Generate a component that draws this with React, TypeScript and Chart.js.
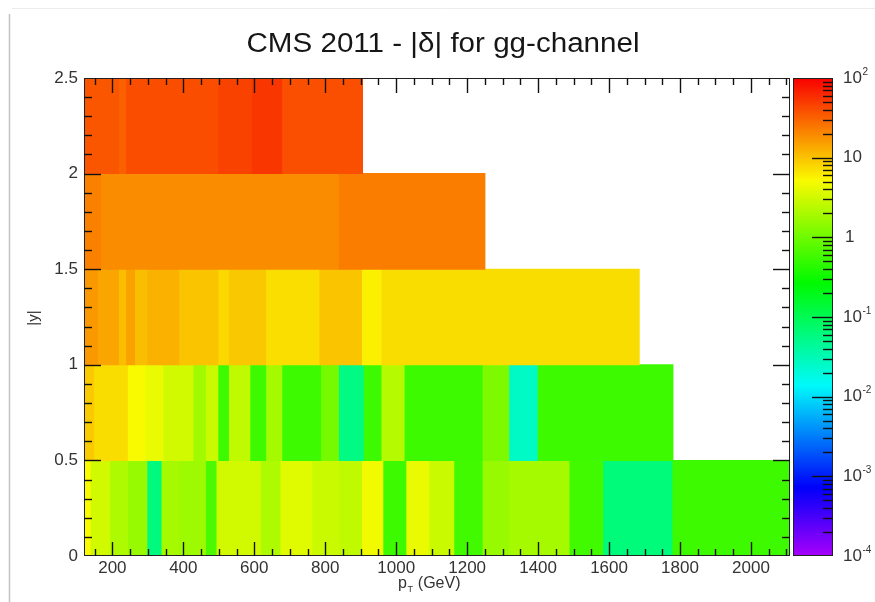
import { useEffect, useRef } from 'react';
import { Chart, registerables } from 'chart.js';

Chart.register(...registerables);

// ---------- text ----------
const TITLE = 'CMS 2011 - |δ| for gg-channel';
const X_TITLE = 'p';
const X_TITLE_SUB = 'T';
const X_TITLE_UNIT = ' (GeV)';
const Y_TITLE = '|y|';

// ---------- axis ranges / ticks ----------
const X_MIN = 120;
const X_MAX = 2110;
const Y_MIN = 0;
const Y_MAX = 2.5;
const Z_MIN = 1e-4;
const Z_MAX = 1e2;
const xTickValues = [200, 400, 600, 800, 1000, 1200, 1400, 1600, 1800, 2000];
const yTickValues = [0, 0.5, 1, 1.5, 2, 2.5];
const zTickExponents = [-4, -3, -2, -1, 0, 1, 2];

// ---------- data: |y| bins (lower edges) ----------
const yBinLow = [0, 0.5, 1, 1.5, 2];
const Y_BIN_WIDTH = 0.5;

// pT bin edges and |δ| values per |y| row (bottom to top)
const row0Edges = [120, 140, 195, 245, 300, 340, 390, 465, 495, 620, 675, 765, 840, 905, 965, 1030, 1095, 1165, 1245, 1320, 1490, 1585, 1780, 2110];
const row0Values = [5.2, 3.2, 2.1, 1.6, 0.06, 1.9, 1.75, 0.65, 3.2, 2.1, 3.8, 2.9, 2.6, 4.7, 0.56, 4.3, 2.9, 0.58, 1.6, 1.9, 0.58, 0.063, 0.56];

const row1Edges = [120, 150, 245, 295, 345, 430, 465, 500, 530, 590, 635, 680, 790, 840, 910, 960, 1025, 1245, 1320, 1400, 1780];
const row1Values = [9.2, 7.3, 5.1, 4.3, 3.2, 1.8, 2.9, 0.56, 2.6, 0.56, 1.9, 0.56, 1.07, 0.057, 0.56, 2.3, 0.56, 1.2, 0.026, 0.56];

const row2Edges = [120, 160, 220, 240, 265, 300, 390, 500, 530, 635, 785, 905, 960, 1685];
const row2Values = [16.6, 14.2, 10.6, 14.6, 10.5, 12.3, 9.8, 7.7, 9.4, 7.2, 9.8, 5.8, 7.3];

const row3Edges = [120, 170, 840, 1250];
const row3Values = [21.7, 19, 22.8];

const row4Edges = [120, 220, 240, 500, 595, 680, 905];
const row4Values = [36, 32, 40, 46, 53, 39];

const rowEdges = [row0Edges, row1Edges, row2Edges, row3Edges, row4Edges];
const rowValues = [row0Values, row1Values, row2Values, row3Values, row4Values];

// ---------- palette (ROOT "pretty" rainbow, log z) ----------
const zT = (z: number) =>
  Math.min(1, Math.max(0, (Math.log10(z) - Math.log10(Z_MIN)) / (Math.log10(Z_MAX) - Math.log10(Z_MIN))));
const zColor = (z: number) => {
  const h = 280 * (1 - zT(z));
  return `hsl(${h.toFixed(2)}, 100%, 49%)`;
};

const FONT = '"Liberation Sans", Arial, Helvetica, sans-serif';

const decorPlugin = {
  id: 'rootDecor',
  afterDraw(chart: any) {
    const { ctx, chartArea: a, scales } = chart;
    const xs = scales.x;
    const ys = scales.y;
    const zs = scales.z;
    const zPix = (v: number) => {
      const p = zs ? zs.getPixelForValue(v) : NaN;
      if (isFinite(p)) return p;
      return a.bottom - zT(v) * (a.bottom - a.top);
    };
    const line = (x1: number, y1: number, x2: number, y2: number) => {
      ctx.beginPath();
      ctx.moveTo(x1, y1);
      ctx.lineTo(x2, y2);
      ctx.stroke();
    };
    ctx.save();

    // outer canvas border
    ctx.strokeStyle = '#c4c4c4';
    ctx.lineWidth = 1.5;
    line(9.5, 14, 9.5, 602);
    ctx.strokeStyle = '#ececec';
    ctx.lineWidth = 1;
    line(12, 8.5, 875, 8.5);

    // frame
    ctx.strokeStyle = '#222';
    ctx.lineWidth = 1;
    ctx.strokeRect(a.left + 0.5, a.top + 0.5, a.right - a.left - 1, a.bottom - a.top - 1);

    // x ticks (bottom & top, inward)
    ctx.strokeStyle = '#111';
    ctx.lineWidth = 1.4;
    for (let v = 150; v < X_MAX; v += 50) {
      const px = Math.round(xs.getPixelForValue(v)) + 0.5;
      const major = v % 200 === 0;
      const lb = major ? 14 : 7;
      const lt = major ? 15 : 7;
      line(px, a.bottom, px, a.bottom - lb);
      line(px, a.top, px, a.top + lt);
    }
    // y ticks (left & right, inward)
    for (let i = 1; i < 25; i++) {
      const v = i / 10;
      const py = Math.round(ys.getPixelForValue(v)) + 0.5;
      const major = i % 5 === 0;
      const l = major ? 17 : 8;
      line(a.left, py, a.left + l, py);
      line(a.right, py, a.right - l, py);
    }

    // colour bar
    const cbL = a.right + 3;
    const cbR = a.right + 43;
    const cbT = zPix(Z_MAX);
    const cbB = zPix(Z_MIN);
    for (let y = Math.floor(cbT); y < cbB; y++) {
      const z = zs ? zs.getValueForPixel(y + 0.5) : Math.pow(10, Math.log10(Z_MIN) + ((cbB - y - 0.5) / (cbB - cbT)) * 6);
      ctx.fillStyle = zColor(z);
      ctx.fillRect(cbL, y, cbR - cbL, 1);
    }
    ctx.strokeStyle = '#222';
    ctx.lineWidth = 1;
    ctx.strokeRect(cbL + 0.5, cbT + 0.5, cbR - cbL - 1, cbB - cbT - 1);
    ctx.strokeStyle = '#111';
    ctx.lineWidth = 1.4;
    for (let e = zTickExponents[0]; e <= zTickExponents[zTickExponents.length - 1]; e++) {
      const base = Math.pow(10, e);
      const p = Math.round(zPix(base)) + 0.5;
      if (e > zTickExponents[0] && e < zTickExponents[zTickExponents.length - 1]) line(cbR, p, cbR - 21, p);
      if (e < zTickExponents[zTickExponents.length - 1]) {
        for (let k = 2; k <= 9; k++) {
          const pm = Math.round(zPix(k * base)) + 0.5;
          line(cbR, pm, cbR - 10, pm);
        }
      }
    }
    // colour bar labels
    ctx.fillStyle = '#333';
    ctx.textBaseline = 'middle';
    ctx.textAlign = 'left';
    for (const e of zTickExponents) {
      const p = zPix(Math.pow(10, e));
      const lx = cbR + 10;
      ctx.font = `17px ${FONT}`;
      if (e === 0) {
        ctx.fillText('1', lx + 2, p);
      } else if (e === 1) {
        ctx.fillText('10', lx, p);
      } else {
        ctx.fillText('10', lx, p);
        const w = ctx.measureText('10').width;
        ctx.font = `10px ${FONT}`;
        ctx.fillText(String(e), lx + w + 0.5, p - 6);
      }
    }

    // title
    ctx.fillStyle = '#161616';
    ctx.font = `27px ${FONT}`;
    ctx.textAlign = 'left';
    ctx.textBaseline = 'alphabetic';
    const tw = ctx.measureText(TITLE).width;
    const target = 393;
    const sx = target / tw;
    ctx.save();
    ctx.translate(443 - target / 2, 52);
    ctx.scale(sx, 1);
    ctx.fillText(TITLE, 0, 0);
    ctx.restore();

    // y title
    ctx.save();
    ctx.translate(34, 318);
    ctx.rotate(-Math.PI / 2);
    ctx.font = `15px ${FONT}`;
    ctx.fillStyle = '#333';
    ctx.textAlign = 'center';
    ctx.textBaseline = 'middle';
    ctx.fillText(Y_TITLE, 0, 0);
    ctx.restore();

    // x title
    ctx.fillStyle = '#333';
    ctx.textAlign = 'left';
    ctx.textBaseline = 'alphabetic';
    ctx.font = `16px ${FONT}`;
    let tx = 398;
    const ty = 588;
    ctx.fillText(X_TITLE, tx, ty);
    tx += ctx.measureText(X_TITLE).width;
    ctx.font = `9px ${FONT}`;
    ctx.fillText(X_TITLE_SUB, tx + 0.5, ty + 4);
    tx += ctx.measureText(X_TITLE_SUB).width + 1;
    ctx.font = `16px ${FONT}`;
    ctx.fillText(X_TITLE_UNIT, tx, ty);

    ctx.restore();
  },
};

export default function App() {
  const ref = useRef<HTMLCanvasElement | null>(null);

  useEffect(() => {
    if (!ref.current) return;
    const cells: { x: [number, number]; y: number; v: number }[] = [];
    yBinLow.forEach((lo, r) => {
      const edges = rowEdges[r];
      rowValues[r].forEach((v, i) => {
        cells.push({ x: [edges[i], edges[i + 1]], y: lo + Y_BIN_WIDTH / 2, v });
      });
    });

    const chart = new Chart(ref.current, {
      type: 'bar',
      data: {
        datasets: [
          {
            label: '|δ|',
            data: cells.map((c) => ({ x: c.x, y: c.y })) as any,
            backgroundColor: cells.map((c) => zColor(c.v)),
            borderWidth: 0,
            barPercentage: 1,
            categoryPercentage: 1,
            inflateAmount: 0.5,
          } as any,
        ],
      },
      options: {
        indexAxis: 'y',
        animation: false,
        responsive: false,
        events: [],
        layout: { padding: { left: 0, right: 85, top: 78, bottom: 0 } },
        plugins: {
          legend: { display: false },
          title: { display: false },
          tooltip: { enabled: false },
        },
        scales: {
          x: {
            type: 'linear',
            position: 'bottom',
            min: X_MIN,
            max: X_MAX,
            offset: false,
            grid: { display: false, drawTicks: false },
            border: { display: false },
            afterBuildTicks: (s: any) => {
              s.ticks = xTickValues.map((v) => ({ value: v }));
            },
            afterFit: (s: any) => {
              s.height = 46;
            },
            ticks: {
              autoSkip: false,
              maxRotation: 0,
              padding: 2,
              color: '#333',
              font: { family: FONT, size: 17 },
              callback: (v: any) => String(v),
            },
          },
          y: {
            type: 'linear',
            position: 'left',
            min: Y_MIN,
            max: Y_MAX,
            offset: false,
            grid: { display: false, drawTicks: false },
            border: { display: false },
            afterBuildTicks: (s: any) => {
              s.ticks = yTickValues.map((v) => ({ value: v }));
            },
            afterFit: (s: any) => {
              s.width = 84;
            },
            ticks: {
              autoSkip: false,
              padding: 6,
              color: '#333',
              font: { family: FONT, size: 17 },
              callback: (v: any) => String(v),
            },
          },
          z: {
            type: 'logarithmic',
            position: 'right',
            display: false,
            min: Z_MIN,
            max: Z_MAX,
          },
        },
      } as any,
      plugins: [decorPlugin],
    });
    return () => chart.destroy();
  }, []);

  return (
    <div style={{ position: 'fixed', left: 0, top: 0, width: 875, height: 602, background: '#fff' }}>
      <canvas ref={ref} width={875} height={602} style={{ display: 'block' }} />
    </div>
  );
}
